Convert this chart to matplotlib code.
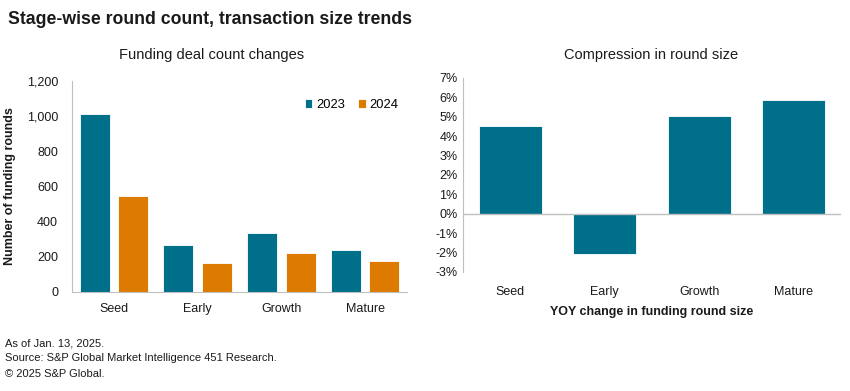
import matplotlib.pyplot as plt
import numpy as np
from matplotlib.ticker import FuncFormatter

plt.rcParams['font.family'] = ['Liberation Sans', 'DejaVu Sans']

stages = ['Seed', 'Early', 'Growth', 'Mature']
count_2023 = [1010, 265, 335, 237]
count_2024 = [545, 167, 220, 176]
yoy_change = [4.5, -2.05, 5.05, 5.88]

teal = '#006f89'
orange = '#dd7a00'
axis_grey = '#bfbfbf'
text_col = '#1a1a1a'

fig = plt.figure(figsize=(8.5, 3.91), dpi=100)

# left panel
ax1 = fig.add_axes([72 / 850, 1 - 292 / 391, 335 / 850, 211 / 391])
x = np.arange(len(stages))
w = 0.36
ax1.bar(x - 0.23, count_2023, w, color=teal, edgecolor='white', linewidth=0.6, label='2023')
ax1.bar(x + 0.23, count_2024, w, color=orange, edgecolor='white', linewidth=0.6, label='2024')
ax1.set_xlim(-0.5, 3.5)
ax1.set_ylim(0, 1200)
ax1.set_yticks(range(0, 1201, 200))
ax1.yaxis.set_major_formatter(FuncFormatter(lambda v, p: f'{int(v):,}'))
ax1.set_xticks(x)
ax1.set_xticklabels(stages)
ax1.set_ylabel('Number of funding rounds', fontsize=9, fontweight='bold', color=text_col, labelpad=8)
ax1.legend(loc='upper right', bbox_to_anchor=(1.01, 0.97), ncol=2, frameon=False, fontsize=9.3,
           handlelength=0.6, handleheight=0.6, handletextpad=0.3, columnspacing=1.0)

# right panel
ax2 = fig.add_axes([463 / 850, 1 - 272 / 391, 378 / 850, 194 / 391])
ax2.bar(x, yoy_change, 0.67, color=teal, edgecolor='white', linewidth=0.6)
ax2.axhline(0, color=axis_grey, linewidth=1)
ax2.set_xlim(-0.5, 3.5)
ax2.set_ylim(-3, 7)
ax2.set_yticks(range(-3, 8))
ax2.yaxis.set_major_formatter(FuncFormatter(lambda v, p: f'{int(v)}%'))
ax2.set_xticks(x)
ax2.set_xticklabels(stages)
ax2.tick_params(axis='x', pad=10)
ax2.set_xlabel('YOY change in funding round size', fontsize=9, fontweight='bold', color=text_col, labelpad=6)

for ax in (ax1, ax2):
    for s in ('top', 'right'):
        ax.spines[s].set_visible(False)
    ax.spines['left'].set_color(axis_grey)
    ax.spines['bottom'].set_color(axis_grey)
    ax.tick_params(length=0, labelsize=9, colors=text_col)
ax2.spines['bottom'].set_visible(False)
ax1.tick_params(axis='x', pad=8)
ax1.tick_params(axis='y', pad=10)
ax2.tick_params(axis='y', pad=4)

fig.text(212 / 850, 1 - 55 / 391, 'Funding deal count changes', fontsize=10.5, color=text_col,
         ha='center', va='center')
fig.text(651 / 850, 1 - 55 / 391, 'Compression in round size', fontsize=10.5, color=text_col,
         ha='center', va='center')
fig.text(8 / 850, 1 - 20 / 391, 'Stage-wise round count, transaction size trends', fontsize=12.7,
         fontweight='bold', color=text_col, va='center')
fig.text(5 / 850, 1 - 343 / 391, 'As of Jan. 13, 2025.', fontsize=8, color=text_col, va='center')
fig.text(5 / 850, 1 - 358 / 391, 'Source: S&P Global Market Intelligence 451 Research.', fontsize=8,
         color=text_col, va='center')
fig.text(5 / 850, 1 - 374 / 391, '\u00a9 2025 S&P Global.', fontsize=8, color=text_col, va='center')

fig.savefig('out.png', dpi=100)
